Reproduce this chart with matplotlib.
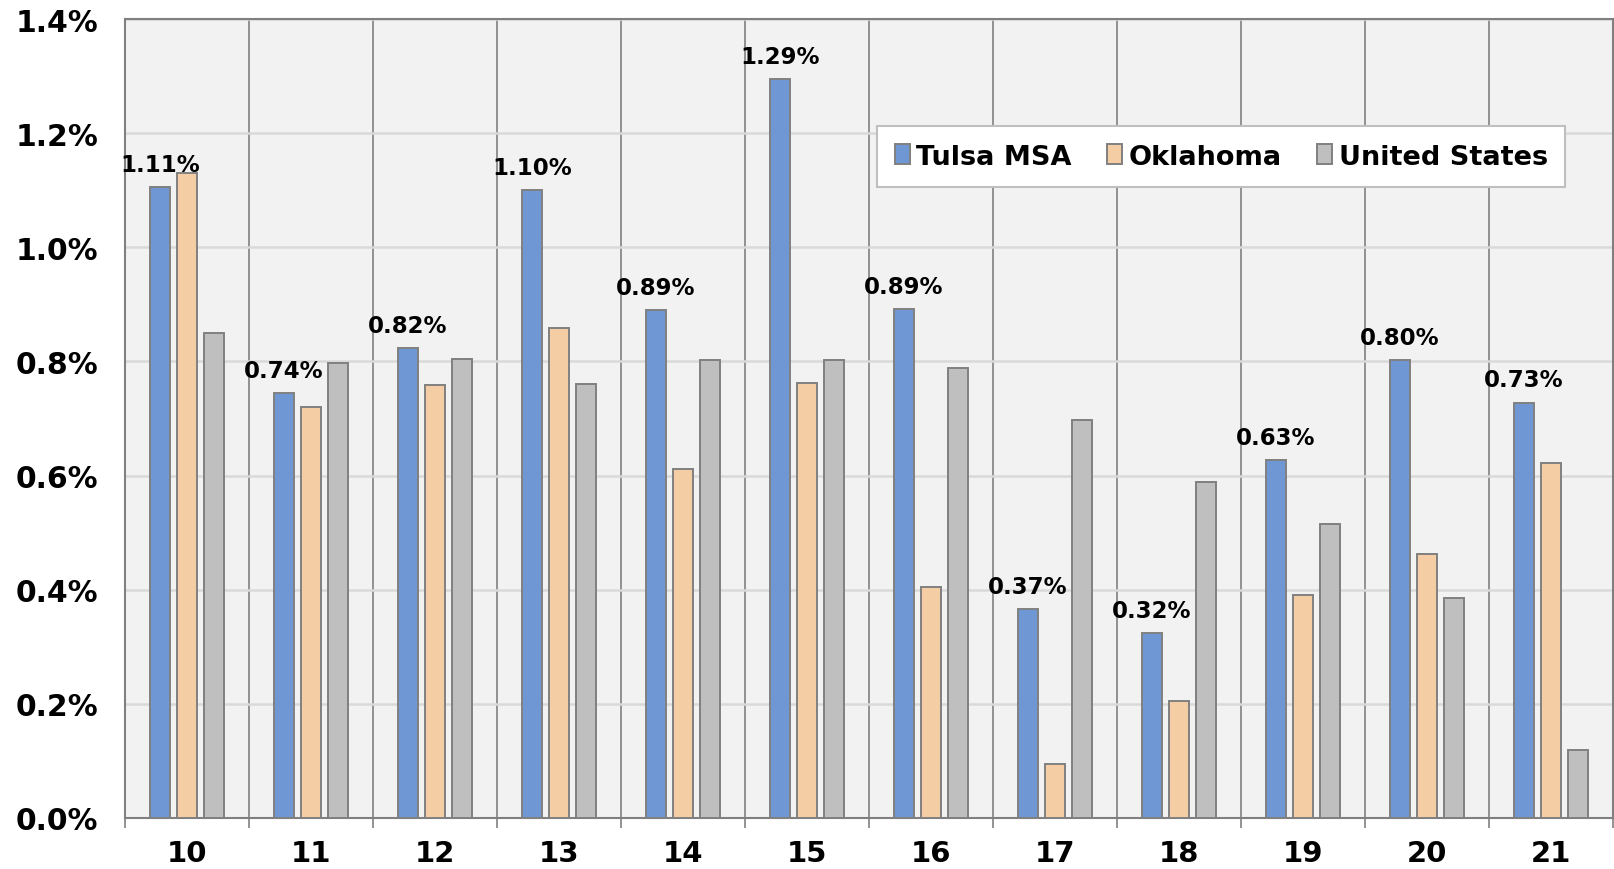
import numpy as np
import matplotlib
matplotlib.use("Agg")
import matplotlib.pyplot as plt
from matplotlib.ticker import FixedLocator, FuncFormatter

years = ["10", "11", "12", "13", "14", "15", "16", "17", "18", "19", "20", "21"]
tulsa = [1.106, 0.744, 0.823, 1.101, 0.890, 1.294, 0.892, 0.366, 0.324, 0.627, 0.802, 0.728]
oklahoma = [1.13, 0.72, 0.759, 0.859, 0.611, 0.762, 0.405, 0.095, 0.205, 0.391, 0.463, 0.622]
united_states = [0.85, 0.798, 0.804, 0.760, 0.802, 0.802, 0.789, 0.697, 0.589, 0.515, 0.386, 0.119]
series_names = ["Tulsa MSA", "Oklahoma", "United States"]

colors = ["#6F97D3", "#F5CDA5", "#BFBFBF"]
edge = "#808080"

plt.rcParams["font.family"] = "DejaVu Sans"
plt.rcParams["font.weight"] = "bold"

fig = plt.figure(figsize=(16.14, 8.70), dpi=100)
ax = fig.add_axes([125 / 1614, 1 - 819 / 870, 1488 / 1614, 799 / 870])
ax.set_facecolor("#F2F2F2")

x = np.arange(len(years))
step = 0.218
width = 0.165
all_series = [tulsa, oklahoma, united_states]
for i, (vals, name) in enumerate(zip(all_series, series_names)):
    ax.bar(x + (i - 1) * step, vals, width, color=colors[i], edgecolor=edge,
           linewidth=1.4, label=name, zorder=3)

for xi, v in zip(x, tulsa):
    ax.annotate(f"{v:.2f}%", (xi - step, v), xytext=(0, 8), textcoords="offset points",
                ha="center", va="bottom", fontsize=16.5, fontweight="bold", zorder=5)

ax.set_xlim(-0.5, len(years) - 0.5)
ax.set_ylim(0, 1.4)

ax.set_xticks(x)
ax.set_xticklabels(years)
ax.xaxis.set_minor_locator(FixedLocator(np.arange(-0.5, len(years), 1.0)))
ax.tick_params(axis="x", which="major", length=0, pad=15, labelsize=21)
ax.tick_params(axis="x", which="minor", length=7, width=1.2, color=edge)
ax.set_yticks(np.arange(0, 1.41, 0.2))
ax.yaxis.set_major_formatter(FuncFormatter(lambda v, p: f"{v:.1f}%"))
ax.tick_params(axis="y", length=0, pad=19, labelsize=21.5)

ax.grid(axis="y", color="#D9D9D9", linewidth=1.8, zorder=0)
ax.grid(axis="x", which="minor", color=edge, linewidth=1.2, zorder=1)
for s in ax.spines.values():
    s.set_color(edge)
    s.set_linewidth(1.5)

leg = ax.legend(loc="upper right", bbox_to_anchor=(0.968, 0.866), ncol=3,
                frameon=True, fancybox=False, edgecolor="#BFBFBF", framealpha=1,
                handlelength=0.55, handleheight=0.75, borderaxespad=0,
                handletextpad=0.25, columnspacing=1.3, borderpad=0.65,
                prop={"weight": "bold", "size": 19.5})
leg.get_frame().set_linewidth(1.5)

fig.savefig("out.png", dpi=100)
